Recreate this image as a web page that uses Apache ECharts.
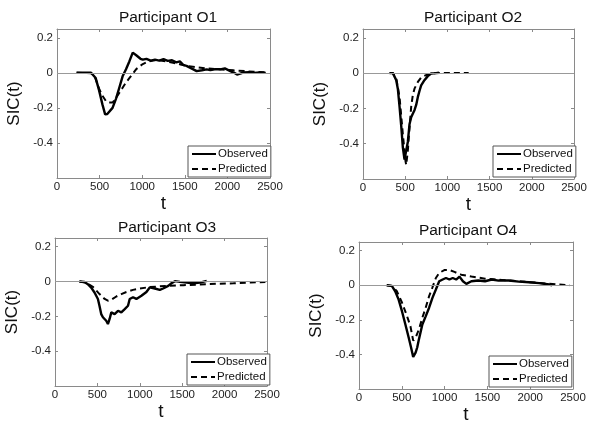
<!DOCTYPE html>
<html>
<head>
<meta charset="utf-8">
<script src="https://cdn.jsdelivr.net/npm/echarts@6/dist/echarts.min.js"></script>
<style>html,body{margin:0;padding:0;background:#fff;}#c{width:600px;height:425px;}</style>
</head>
<body>
<div id="c"></div>
<script>
// ---- data ----
const panelTitles = ['Participant O1', 'Participant O2', 'Participant O3', 'Participant O4'];
const xTicks = [0, 500, 1000, 1500, 2000, 2500];
const yTicks = [0.2, 0, -0.2, -0.4];

const o1ObsT = [230, 400, 454, 494, 533, 565, 573, 590, 612, 652, 691, 731, 770, 810, 849, 889, 909, 930, 948, 980, 1007, 1050, 1100, 1150, 1200, 1250, 1300, 1350, 1400, 1442, 1481, 1520, 1560, 1600, 1639, 1700, 1757, 1800, 1850, 1915, 1970, 2034, 2080, 2113, 2150, 2192, 2250, 2311, 2380, 2450];
const o1ObsV = [0, 0, -0.03, -0.1, -0.18, -0.237, -0.245, -0.235, -0.23, -0.2, -0.15, -0.085, -0.02, 0.02, 0.065, 0.115, 0.125, 0.1, 0.09, 0.08, 0.075, 0.08, 0.07, 0.075, 0.07, 0.078, 0.068, 0.072, 0.06, 0.065, 0.045, 0.04, 0.03, 0.02, 0.01, 0.015, 0.02, 0.015, 0.02, 0.02, 0.025, 0.01, 0.0, -0.01, -0.005, 0.002, 0.004, 0.0, 0.002, 0.0];
const o1PredT = [230, 400, 450, 494, 533, 573, 612, 652, 691, 730, 770, 810, 849, 890, 928, 970, 1007, 1060, 1126, 1180, 1250, 1363, 1450, 1521, 1640, 1757, 1900, 2074, 2200, 2311, 2470];
const o1PredV = [0, -0.002, -0.03, -0.09, -0.13, -0.16, -0.17, -0.17, -0.145, -0.115, -0.085, -0.055, -0.03, -0.005, 0.02, 0.037, 0.05, 0.062, 0.07, 0.073, 0.068, 0.057, 0.048, 0.04, 0.032, 0.025, 0.02, 0.014, 0.01, 0.006, 0.002];

const o2ObsT = [315, 354, 394, 413, 433, 453, 472, 492, 496, 512, 531, 551, 571, 590, 610, 630, 650, 670, 689, 728, 768, 807, 827, 866, 900];
const o2ObsV = [0, 0, -0.04, -0.09, -0.19, -0.3, -0.42, -0.49, -0.5, -0.48, -0.39, -0.29, -0.25, -0.23, -0.21, -0.18, -0.135, -0.1, -0.07, -0.04, -0.017, -0.002, 0.006, 0.0, 0.002];
const o2PredT = [315, 354, 394, 433, 472, 504, 512, 531, 551, 571, 590, 610, 650, 689, 748, 807, 866, 950, 1050, 1150, 1252];
const o2PredV = [0, 0, -0.03, -0.135, -0.345, -0.5, -0.52, -0.44, -0.31, -0.19, -0.125, -0.088, -0.05, -0.025, -0.011, -0.002, 0, 0, 0, 0, 0];

const o3ObsT = [288, 348, 387, 427, 466, 506, 525, 545, 565, 585, 604, 624, 644, 664, 703, 743, 782, 822, 861, 881, 920, 960, 1019, 1078, 1117, 1177, 1236, 1275, 1335, 1374, 1414, 1473, 1552, 1631, 1710, 1789];
const o3ObsV = [0, -0.003, -0.015, -0.035, -0.063, -0.1, -0.14, -0.187, -0.205, -0.196, -0.225, -0.244, -0.215, -0.177, -0.187, -0.168, -0.177, -0.158, -0.139, -0.1, -0.09, -0.1, -0.082, -0.06, -0.034, -0.04, -0.048, -0.04, -0.025, -0.01, 0.002, -0.002, -0.006, -0.01, -0.006, 0.004];
const o3PredT = [288, 367, 446, 525, 585, 624, 664, 723, 782, 842, 920, 999, 1117, 1315, 1513, 1710, 1908, 2105, 2303, 2481];
const o3PredV = [0, -0.006, -0.03, -0.072, -0.1, -0.11, -0.105, -0.086, -0.072, -0.06, -0.048, -0.04, -0.032, -0.025, -0.021, -0.017, -0.013, -0.01, -0.006, -0.002];

const o4ObsT = [324, 384, 423, 463, 502, 542, 581, 609, 633, 661, 680, 700, 740, 779, 819, 858, 898, 937, 977, 1016, 1056, 1095, 1135, 1174, 1214, 1254, 1313, 1392, 1472, 1551, 1630, 1748, 1867, 1986, 2104, 2223, 2255];
const o4ObsV = [0, -0.004, -0.035, -0.083, -0.15, -0.227, -0.304, -0.362, -0.415, -0.39, -0.36, -0.313, -0.227, -0.18, -0.13, -0.073, -0.025, 0.023, 0.033, 0.042, 0.033, 0.042, 0.033, 0.05, 0.023, 0.008, 0.023, 0.027, 0.023, 0.033, 0.027, 0.027, 0.021, 0.017, 0.012, 0.004, 0];
const o4PredT = [324, 384, 443, 502, 562, 601, 633, 661, 700, 740, 779, 819, 858, 898, 937, 997, 1056, 1115, 1194, 1313, 1472, 1669, 1867, 2065, 2223, 2342, 2461];
const o4PredV = [0, -0.004, -0.035, -0.1, -0.18, -0.237, -0.32, -0.304, -0.256, -0.188, -0.13, -0.063, -0.012, 0.042, 0.071, 0.088, 0.088, 0.077, 0.061, 0.05, 0.038, 0.031, 0.023, 0.015, 0.008, 0.004, 0];

const observed = [[o1ObsT, o1ObsV], [o2ObsT, o2ObsV], [o3ObsT, o3ObsV], [o4ObsT, o4ObsV]];
const predicted = [[o1PredT, o1PredV], [o2PredT, o2PredV], [o3PredT, o3PredV], [o4PredT, o4PredV]];

// ---- layout ----
const grids = [
  {left: 57, top: 29, width: 213, height: 149},
  {left: 363, top: 29, width: 211, height: 150},
  {left: 55, top: 238, width: 212, height: 148},
  {left: 359, top: 242, width: 214, height: 147}
];
const titlePos = [[163, 5], [468, 5], [162, 215], [463, 218]];
const legendPos = [[188, 146], [493, 146], [187, 354], [489, 356]];

const FONT = 'Liberation Sans, Arial, sans-serif';
const frameColor = '#8a8a8a';
const zip = (t, v) => t.map((x, i) => [x, v[i]]);

const option = {
  animation: false,
  backgroundColor: '#fff',
  textStyle: {fontFamily: FONT},
  title: [], grid: [], xAxis: [], yAxis: [], series: [], legend: []
};

grids.forEach((g, i) => {
  option.grid.push({left: g.left, top: g.top, width: g.width, height: g.height, show: false, containLabel: false});
  option.title.push({
    text: panelTitles[i], left: titlePos[i][0], top: titlePos[i][1], textAlign: 'center',
    textStyle: {fontFamily: FONT, fontSize: 15.5, fontWeight: 'normal', color: '#111'}
  });
  option.xAxis.push({
    type: 'value', gridIndex: i, min: 0, max: 2500, interval: 500, position: 'bottom',
    name: 't', nameLocation: 'middle', nameGap: 12,
    nameTextStyle: {fontFamily: FONT, fontSize: 19, color: '#111', verticalAlign: 'top'},
    axisLine: {show: true, onZero: false, lineStyle: {color: frameColor, width: 1}},
    axisTick: {show: true, inside: true, length: 3, lineStyle: {color: frameColor}},
    axisLabel: {fontFamily: FONT, fontSize: 11.5, color: '#222', margin: 3,
      formatter: v => xTicks.indexOf(v) >= 0 ? String(v) : ''},
    splitLine: {show: false}
  });
  option.xAxis.push({
    type: 'value', gridIndex: i, min: 0, max: 2500, interval: 500, position: 'top',
    axisLine: {show: true, onZero: false, lineStyle: {color: frameColor, width: 1}},
    axisTick: {show: true, inside: true, length: 3, lineStyle: {color: frameColor}},
    axisLabel: {show: false}, splitLine: {show: false}
  });
  option.yAxis.push({
    type: 'value', gridIndex: i, min: -0.6, max: 0.25, interval: 0.2, position: 'left',
    name: 'SIC(t)', nameLocation: 'middle', nameGap: 34, nameRotate: 90,
    nameTextStyle: {fontFamily: FONT, fontSize: 17, color: '#111'},
    axisLine: {show: true, onZero: false, lineStyle: {color: frameColor, width: 1}},
    axisTick: {show: true, inside: true, length: 3, lineStyle: {color: frameColor}},
    axisLabel: {fontFamily: FONT, fontSize: 11.5, color: '#222', margin: 4,
      formatter: v => {
        const hit = yTicks.find(t => Math.abs(t - v) < 1e-9);
        return hit === undefined ? '' : String(hit);
      }},
    splitLine: {show: false}
  });
  option.yAxis.push({
    type: 'value', gridIndex: i, min: -0.6, max: 0.25, interval: 0.2, position: 'right',
    axisLine: {show: true, onZero: false, lineStyle: {color: frameColor, width: 1}},
    axisTick: {show: true, inside: true, length: 3, lineStyle: {color: frameColor}},
    axisLabel: {show: false}, splitLine: {show: false}
  });

  const xi = i * 2, yi = i * 2;
  option.series.push({
    name: 'Observed', type: 'line', xAxisIndex: xi, yAxisIndex: yi,
    data: zip(observed[i][0], observed[i][1]),
    symbol: 'none', lineStyle: {color: '#000', width: 2.4, type: 'solid'},
    itemStyle: {color: '#000'}, z: 3,
    markLine: {
      silent: true, symbol: 'none', label: {show: false},
      lineStyle: {color: '#999', width: 1, type: 'solid'},
      data: [{yAxis: 0}]
    }
  });
  option.series.push({
    name: 'Predicted', type: 'line', xAxisIndex: xi, yAxisIndex: yi,
    data: zip(predicted[i][0], predicted[i][1]),
    symbol: 'none', lineStyle: {color: '#000', width: 2, type: [6, 4]},
    itemStyle: {color: '#000'}, z: 4
  });

  option.legend.push({
    data: ['Observed', 'Predicted'], orient: 'vertical',
    left: legendPos[i][0], top: legendPos[i][1],
    itemWidth: 24, itemHeight: 12, itemGap: 3,
    padding: [2, 3, 2, 3],
    backgroundColor: '#fff', borderColor: '#555', borderWidth: 1, borderRadius: 0,
    selectedMode: false,
    itemStyle: {opacity: 0},
    textStyle: {fontFamily: FONT, fontSize: 11.5, color: '#111', padding: [0, 0, 0, -3]}
  });
});

const chart = echarts.init(document.getElementById('c'), null, {renderer: 'canvas'});
chart.setOption(option);
</script>
</body>
</html>
